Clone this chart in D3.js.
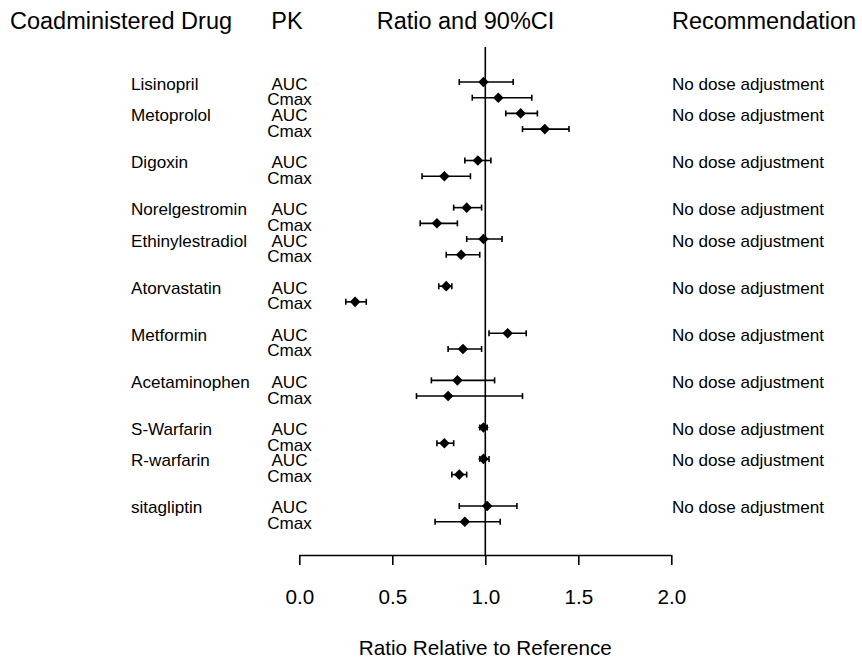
<!DOCTYPE html>
<html>
<head>
<meta charset="utf-8">
<script src="https://cdn.jsdelivr.net/npm/d3@7/dist/d3.min.js"></script>
<style>
  html, body { margin: 0; padding: 0; background: #fff; }
  svg { display: block; }
  text { font-family: "Liberation Sans", Arial, sans-serif; fill: #000; }
</style>
</head>
<body>
<svg id="chart" width="862" height="666"></svg>
<script>
// ---------------- data ----------------
const drugs = ["Lisinopril", "Metoprolol", "Digoxin", "Norelgestromin", "Ethinylestradiol",
  "Atorvastatin", "Metformin", "Acetaminophen", "S-Warfarin", "R-warfarin", "sitagliptin"];
// row index (1 = top) of each drug's AUC line; Cmax is the next row
const drugRow = [1, 3, 6, 9, 11, 14, 17, 20, 23, 25, 28];
const pkParams = ["AUC", "Cmax"];
const aucRatio = [0.99, 1.19, 0.96, 0.90, 0.99, 0.79, 1.12, 0.85, 0.99, 0.99, 1.01];
const aucLo    = [0.86, 1.11, 0.89, 0.83, 0.90, 0.75, 1.02, 0.71, 0.97, 0.97, 0.86];
const aucHi    = [1.15, 1.28, 1.03, 0.98, 1.09, 0.82, 1.22, 1.05, 1.01, 1.02, 1.17];
const cmaxRatio = [1.07, 1.32, 0.78, 0.74, 0.87, 0.30, 0.88, 0.80, 0.78, 0.86, 0.89];
const cmaxLo    = [0.93, 1.20, 0.66, 0.65, 0.79, 0.25, 0.80, 0.63, 0.74, 0.82, 0.73];
const cmaxHi    = [1.25, 1.45, 0.92, 0.85, 0.97, 0.36, 0.98, 1.20, 0.83, 0.90, 1.08];
const recommendation = drugs.map(() => "No dose adjustment");
const xTicks = [0.0, 0.5, 1.0, 1.5, 2.0];
const headers = ["Coadministered Drug", "PK", "Ratio and 90%CI", "Recommendation"];
const xTitle = "Ratio Relative to Reference";
const refValue = 1.0;

// ---------------- layout ----------------
const svg = d3.select("#chart");
const x = d3.scaleLinear().domain([0, 2]).range([299.3, 671.3]);
const y = d3.scaleLinear().domain([1, 29]).range([82, 521.7]);
const plotTop = 47, axisY = 555;
const sx = 1.07; // slight horizontal stretch of the small labels

// flatten into points
const pts = [];
drugs.forEach((d, i) => {
  pts.push({drug: d, pk: pkParams[0], row: drugRow[i], r: aucRatio[i], lo: aucLo[i], hi: aucHi[i]});
  pts.push({drug: d, pk: pkParams[1], row: drugRow[i] + 1, r: cmaxRatio[i], lo: cmaxLo[i], hi: cmaxHi[i]});
});

// headers
const hdr = svg.append("g").attr("font-size", 23.5);
hdr.append("text").attr("x", 10).attr("y", 29).text(headers[0]);
hdr.append("text").attr("x", 287).attr("y", 29).attr("text-anchor", "middle").text(headers[1]);
hdr.append("text").attr("x", 465.5).attr("y", 29).attr("text-anchor", "middle").text(headers[2]);
hdr.append("text").attr("x", 672).attr("y", 29).text(headers[3]);

// reference line
svg.append("line")
  .attr("x1", x(refValue)).attr("x2", x(refValue))
  .attr("y1", plotTop).attr("y2", axisY)
  .attr("stroke", "#000").attr("stroke-width", 1.6);

// labels
const lab = svg.append("g").attr("font-size", 16);
lab.selectAll("text.drug").data(drugs).join("text")
  .attr("class", "drug")
  .attr("transform", (d, i) => `translate(131,${y(drugRow[i]) + 7.5}) scale(${sx},1)`)
  .text(d => d);
lab.selectAll("text.pk").data(pts).join("text")
  .attr("class", "pk")
  .attr("transform", d => `translate(289.5,${y(d.row) + 7.5}) scale(${sx},1)`)
  .attr("text-anchor", "middle")
  .text(d => d.pk);
lab.selectAll("text.rec").data(recommendation).join("text")
  .attr("class", "rec")
  .attr("transform", (d, i) => `translate(672,${y(drugRow[i]) + 7.5}) scale(${sx},1)`)
  .text(d => d);

// error bars
const eb = svg.append("g").attr("stroke", "#000").attr("stroke-width", 1.6);
eb.selectAll("line.ci").data(pts).join("line")
  .attr("x1", d => x(d.lo)).attr("x2", d => x(d.hi))
  .attr("y1", d => y(d.row)).attr("y2", d => y(d.row));
eb.selectAll("line.capl").data(pts).join("line")
  .attr("x1", d => x(d.lo)).attr("x2", d => x(d.lo))
  .attr("y1", d => y(d.row) - 3).attr("y2", d => y(d.row) + 3);
eb.selectAll("line.caph").data(pts).join("line")
  .attr("x1", d => x(d.hi)).attr("x2", d => x(d.hi))
  .attr("y1", d => y(d.row) - 3).attr("y2", d => y(d.row) + 3);

// diamonds
const sym = d3.symbol().type(d3.symbolSquare).size(56);
svg.append("g").selectAll("path").data(pts).join("path")
  .attr("d", sym)
  .attr("transform", d => `translate(${x(d.r)},${y(d.row)}) rotate(45)`)
  .attr("fill", "#000");

// x axis
const ax = svg.append("g").attr("transform", `translate(0,${axisY})`)
  .call(d3.axisBottom(x).tickValues(xTicks).tickFormat(d3.format(".1f")).tickSize(10).tickSizeOuter(0).tickPadding(24));
ax.select(".domain").attr("stroke-width", 1.6);
ax.selectAll(".tick line").attr("stroke-width", 1.6);
ax.selectAll(".tick text").attr("font-size", 20.7).attr("font-family", "Liberation Sans, Arial, sans-serif");

svg.append("text")
  .attr("x", x(1)).attr("y", 655)
  .attr("text-anchor", "middle").attr("font-size", 20.7)
  .text(xTitle);
</script>
</body>
</html>
